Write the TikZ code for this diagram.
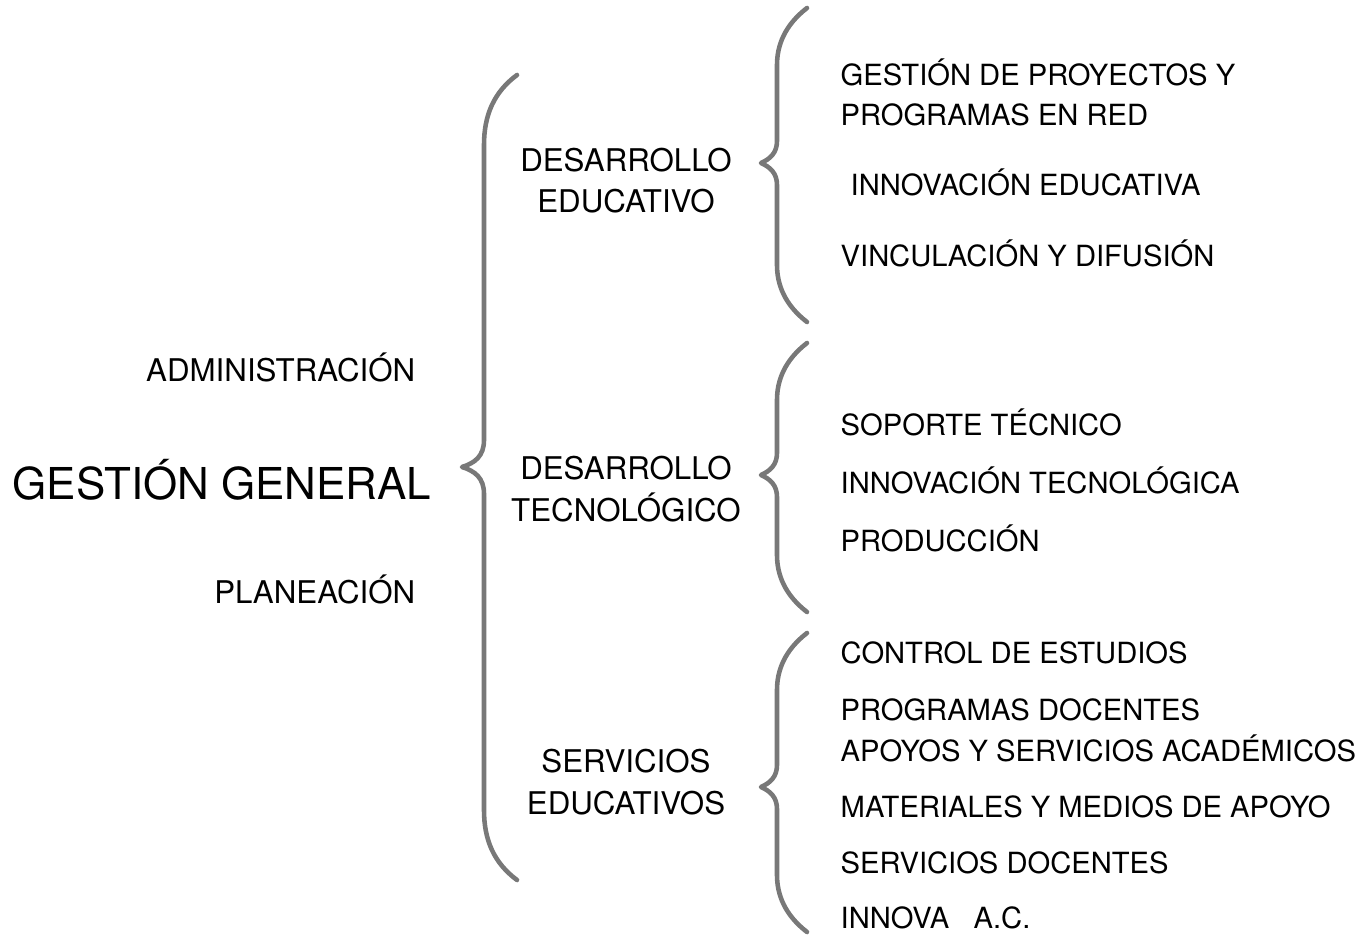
\documentclass[tikz,border=0pt]{standalone}
\usepackage{fontspec}
\setmainfont{TeX Gyre Heros}
\definecolor{llavegris}{RGB}{120,120,120}
% llave: x of the stem, y top, y tip, y bottom
\newcommand{\llave}[4]{%
	\draw[llavegris,line width=1.3pt,line cap=round,line join=round]
		(#1+30,#2) .. controls (#1+8,#2+17) and (#1,#2+37) .. (#1,#2+57)
		-- (#1,#3-22) .. controls (#1,#3-10) and (#1-7,#3-4) .. (#1-16,#3)
		.. controls (#1-7,#3+4) and (#1,#3+10) .. (#1,#3+22)
		-- (#1,#4-57) .. controls (#1,#4-37) and (#1+8,#4-17) .. (#1+30,#4);}

\begin{document}
\begin{tikzpicture}[x=0.1mm,y=-0.1mm,
	raiz/.style={inner sep=0,font=\fontsize{12.5}{15}\selectfont},
	area/.style={inner sep=0,anchor=base east,font=\fontsize{8.9}{11}\selectfont},
	depto/.style={inner sep=0,anchor=base,align=center,font=\fontsize{8.9}{11.95}\selectfont},
	item/.style={inner sep=0,anchor=base west,align=left,font=\fontsize{8.3}{11.1}\selectfont}]
	\useasboundingbox (0,0) rectangle (1369,943);
	% left side
	\node[raiz,anchor=base west] (gg) at (12,499) {GESTIÓN GENERAL};
	\node[area] (adm) at (416,381) {ADMINISTRACIÓN};
	\node[area] (pla) at (416,603) {PLANEACIÓN};
	% braces
	\draw[llavegris,line width=1.3pt,line cap=round,line join=round]
		(517,75) .. controls (494,92) and (484,115) .. (484,145)
		-- (484,440) .. controls (484,456) and (475,463) .. (462,467)
		.. controls (475,471) and (484,478) .. (484,494)
		-- (484,810) .. controls (484,840) and (494,863) .. (517,880);
	\llave{777}{8}{163}{322}
	\llave{777}{343}{475}{612}
	\llave{777}{633}{787}{932}
	% middle column (base = last line)
	\node[depto] (ded) at (626,213) {DESARROLLO\\EDUCATIVO};
	\node[depto] (dte) at (626,521) {DESARROLLO\\TECNOLÓGICO};
	\node[depto] (sed) at (626,814) {SERVICIOS\\EDUCATIVOS};
	% right column
	\node[item] (gpp) at (840,125) {GESTIÓN DE PROYECTOS Y\\PROGRAMAS EN RED};
	\node[item] (ied) at (850,196) {INNOVACIÓN EDUCATIVA};
	\node[item] (vid) at (840,266) {VINCULACIÓN Y DIFUSIÓN};
	\node[item] (sop) at (840,435) {SOPORTE TÉCNICO};
	\node[item] (ite) at (840,493) {INNOVACIÓN TECNOLÓGICA};
	\node[item] (pro) at (840,551) {PRODUCCIÓN};
	\node[item] (ces) at (840,663) {CONTROL DE ESTUDIOS};
	\node[item] (pdo) at (840,720) {PROGRAMAS DOCENTES};
	\node[item] (asa) at (840,761) {APOYOS Y SERVICIOS ACADÉMICOS};
	\node[item] (mma) at (840,817) {MATERIALES Y MEDIOS DE APOYO};
	\node[item] (sdo) at (840,873) {SERVICIOS DOCENTES};
	\node[item] (iac) at (840,928) {INNOVA\ \ \ A.C.};
\end{tikzpicture}
\end{document}
